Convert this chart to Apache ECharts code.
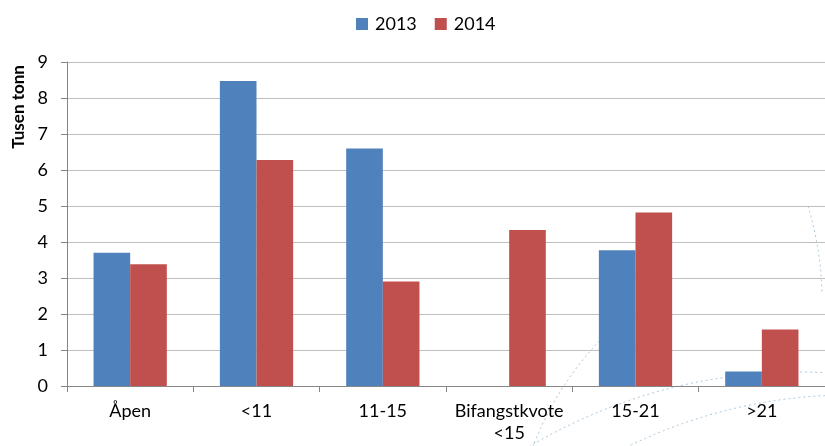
<!DOCTYPE html>
<html>
<head>
<meta charset="utf-8">
<script src="https://cdn.jsdelivr.net/npm/echarts@6/dist/echarts.min.js"></script>
<style>
  html, body { margin: 0; padding: 0; background: #fff; }
  #chart { width: 825px; height: 446px; }
</style>
</head>
<body>
<div id="chart"></div>
<script>
  const categories = ['Åpen', '<11', '11-15', 'Bifangstkvote\n<15', '15-21', '>21'];
  const values2013 = [3.7, 8.47, 6.6, null, 3.77, 0.4];
  const values2014 = [3.38, 6.28, 2.9, 4.33, 4.82, 1.57];
  const yTicks = [0, 9, 1]; // min, max, interval

  const chart = echarts.init(document.getElementById('chart'));
  const font = 'Lato, "Open Sans", sans-serif';
  const deg = Math.PI / 180;

  // faint dotted arcs of the background watermark
  const arcs = [
    { cx: 830, cy: 560, r: 318, a0: -162, a1: -128 },
    { cx: 800, cy: 900, r: 528, a0: -122, a1: -80 },
    { cx: 850, cy: 900, r: 505, a0: -118, a1: -80 },
    { cx: 500, cy: 300, r: 322, a0: -17, a1: -1 }
  ];

  chart.setOption({
    backgroundColor: '#fff',
    animation: false,
    textStyle: { fontFamily: font },
    graphic: arcs.map(a => ({
      type: 'arc',
      z: -10,
      silent: true,
      shape: { cx: a.cx, cy: a.cy, r: a.r, startAngle: a.a0 * deg, endAngle: a.a1 * deg, clockwise: true },
      style: { fill: 'none', stroke: '#a9c6d8', lineWidth: 1, lineDash: [2, 3] }
    })).concat([{
      type: 'text',
      x: 19,
      y: 107,
      rotation: Math.PI / 2,
      style: {
        text: 'Tusen tonn',
        font: 'bold 17px ' + font,
        fill: '#000',
        align: 'center',
        verticalAlign: 'middle'
      }
    }]),
    legend: {
      top: 15,
      left: 356,
      padding: 0,
      icon: 'rect',
      itemWidth: 12,
      itemHeight: 12,
      itemGap: 18,
      textStyle: { fontSize: 18, color: '#000', fontFamily: font, padding: [0, 0, 0, 2] }
    },
    grid: { left: 67, right: -11, top: 62, bottom: 60 },
    xAxis: {
      type: 'category',
      data: categories,
      axisLine: { lineStyle: { color: '#868686' } },
      axisTick: { show: true, length: 6, lineStyle: { color: '#868686' } },
      axisLabel: { color: '#000', fontSize: 18, margin: 14, lineHeight: 22, interval: 0 }
    },
    yAxis: {
      type: 'value',
      min: yTicks[0],
      max: yTicks[1],
      interval: yTicks[2],
      axisLine: { show: true, lineStyle: { color: '#868686' } },
      axisTick: { show: true, length: 6, lineStyle: { color: '#868686' } },
      axisLabel: { color: '#000', fontSize: 18, margin: 19 },
      splitLine: { lineStyle: { color: '#bfbfbf' } }
    },
    series: [
      {
        name: '2013',
        type: 'bar',
        data: values2013,
        barGap: '0%',
        barCategoryGap: '42%',
        itemStyle: { color: '#4f81bd' }
      },
      {
        name: '2014',
        type: 'bar',
        data: values2014,
        itemStyle: { color: '#c0504d' }
      }
    ]
  });
</script>
</body>
</html>
